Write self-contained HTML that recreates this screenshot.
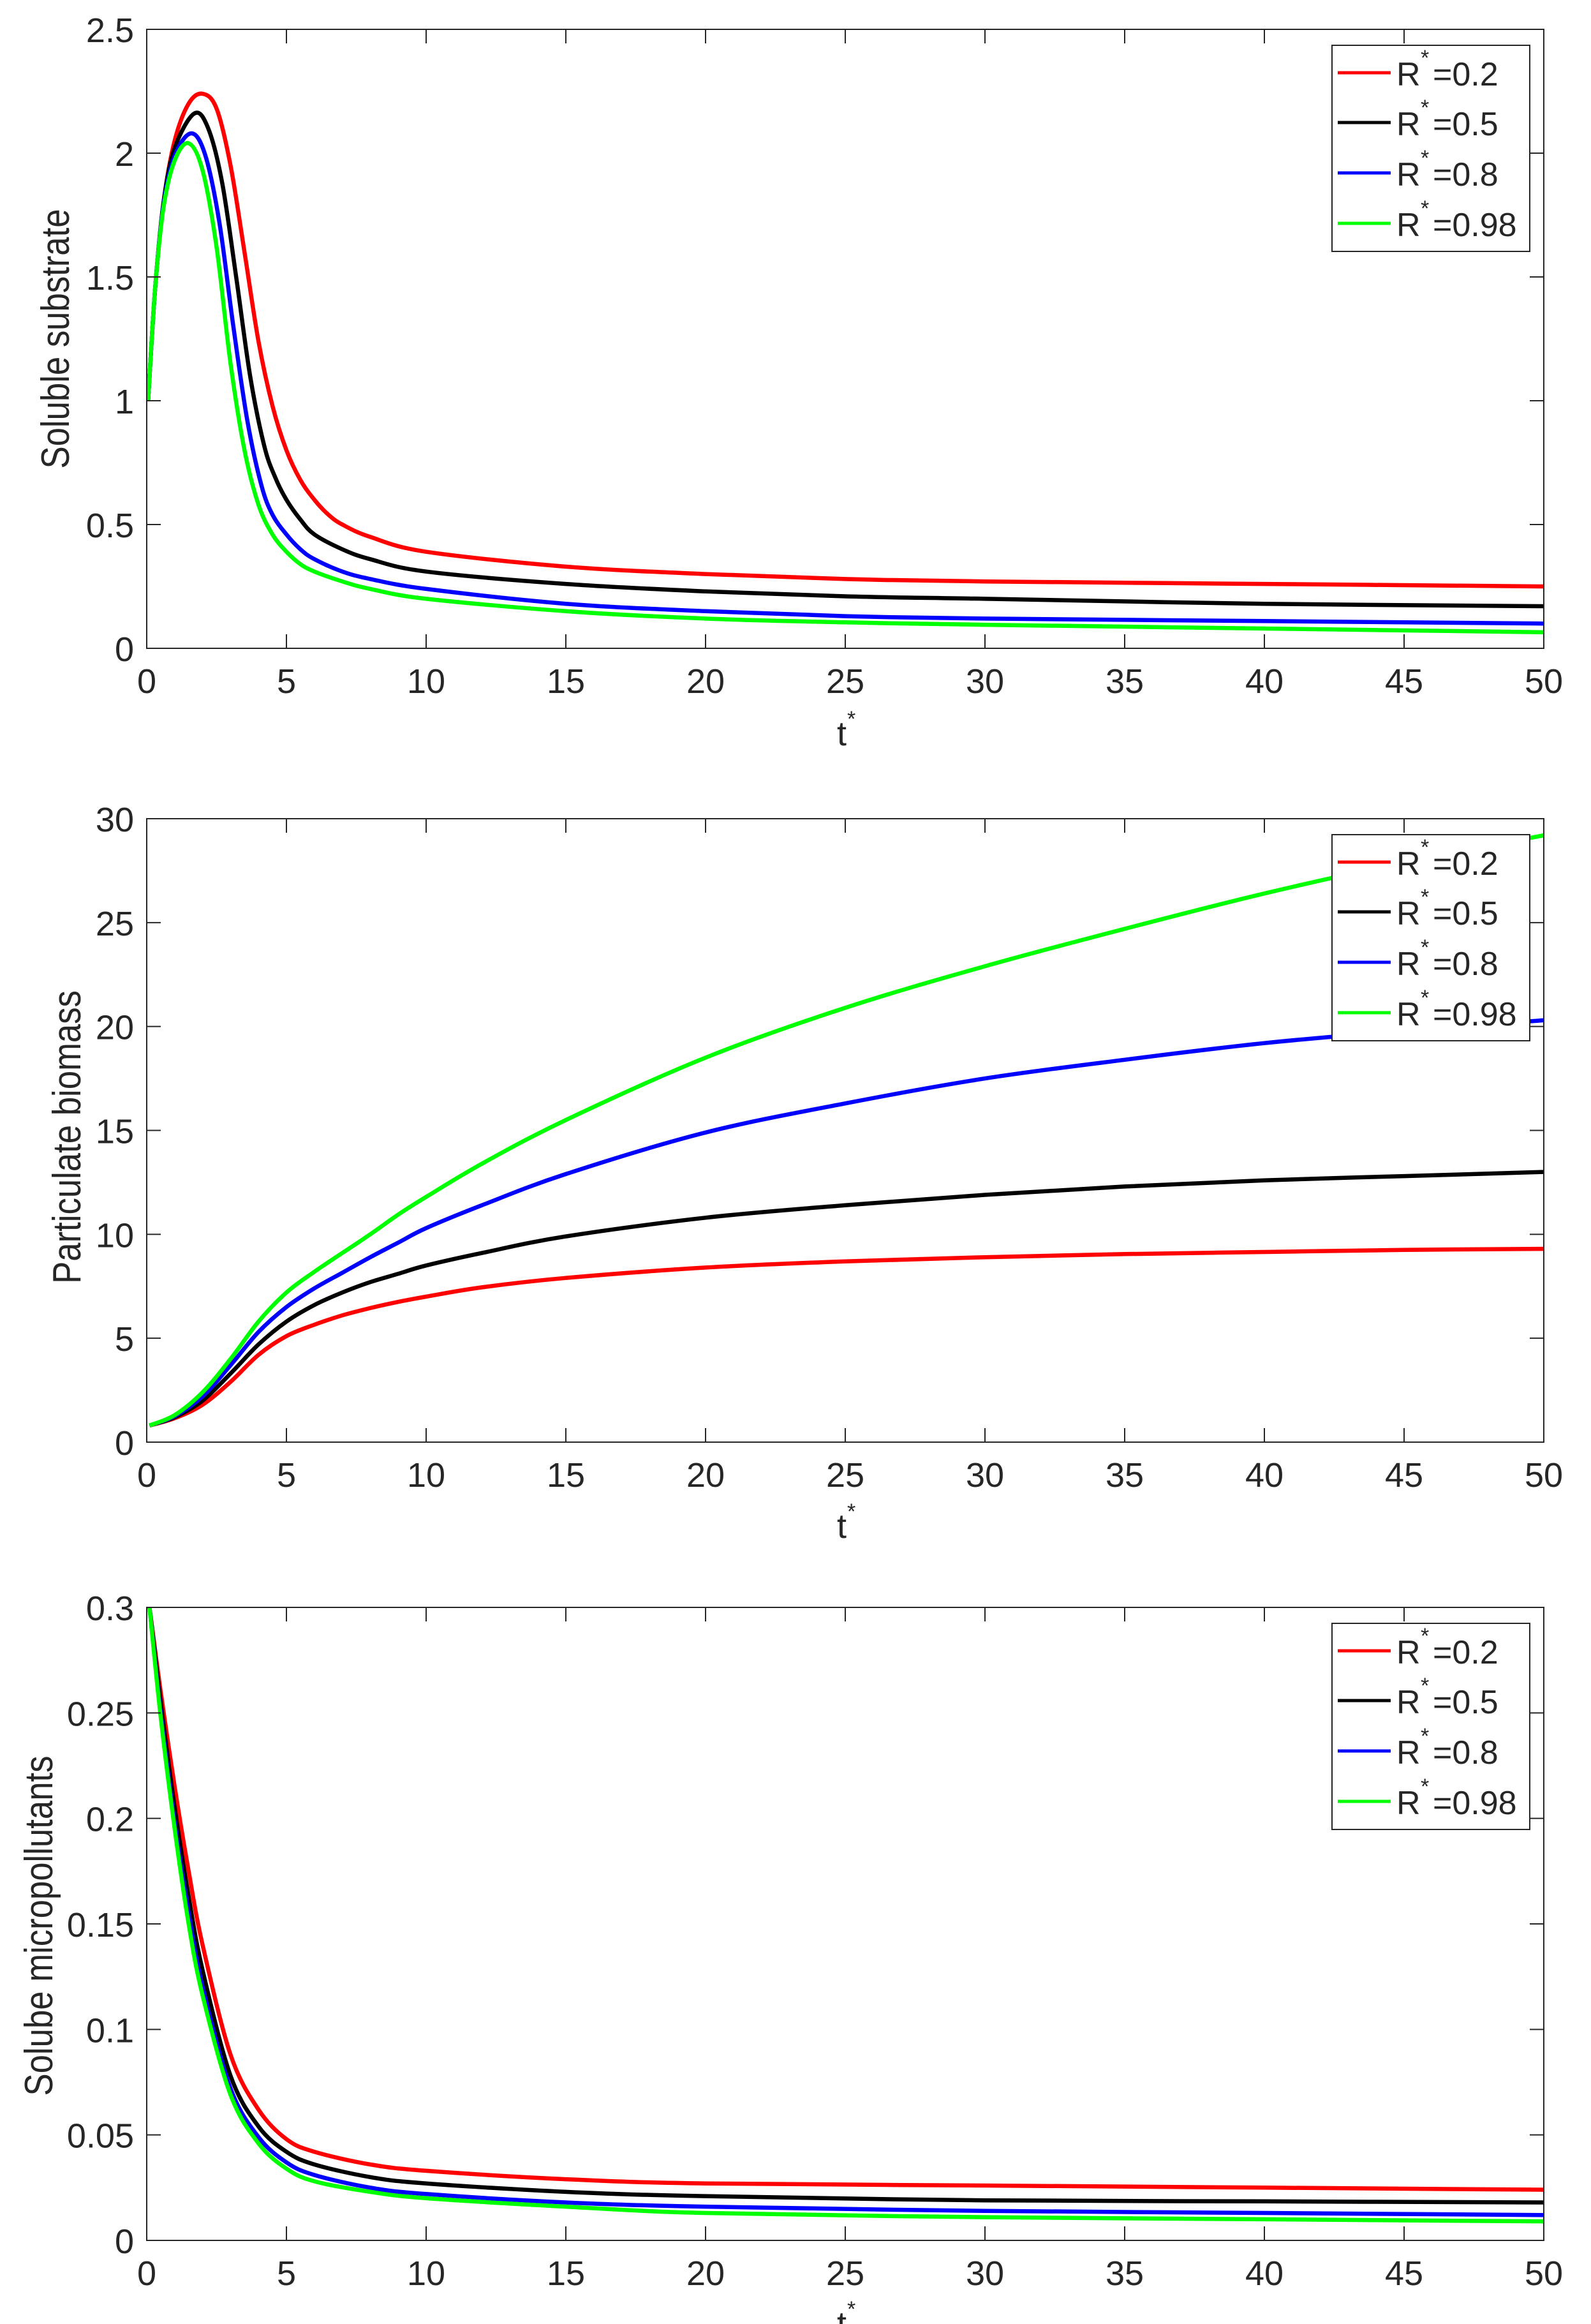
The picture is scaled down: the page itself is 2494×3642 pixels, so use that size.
<!DOCTYPE html>
<html><head><meta charset="utf-8"><style>
html,body{margin:0;padding:0;background:#fff;}
svg{display:block;}
text{font-family:"Liberation Sans",sans-serif;fill:#262626;}
</style></head><body>
<svg id="s" width="2494" height="3642" xmlns="http://www.w3.org/2000/svg">
<rect width="2494" height="3642" fill="#fff"/>
<g id="g"></g>
<text x="0" y="0" font-size="62" text-anchor="middle" transform="translate(108,531) rotate(-90) scale(0.85,1)">Soluble substrate</text>
<text x="0" y="0" font-size="62" text-anchor="middle" transform="translate(126,1782) rotate(-90) scale(0.85,1)">Particulate biomass</text>
<text x="0" y="0" font-size="62" text-anchor="middle" transform="translate(82,3018) rotate(-90) scale(0.85,1)">Solube micropollutants</text>
<text x="1312" y="1168" font-size="54">t</text><text x="1328" y="1138" font-size="34">*</text>
<text x="1312" y="2410" font-size="54">t</text><text x="1328" y="2380" font-size="34">*</text>
<text x="1312" y="3660" font-size="54">t</text><text x="1328" y="3630" font-size="34">*</text>
</svg>
<script>
var NS="http://www.w3.org/2000/svg",G=document.getElementById('g');
function el(n,a,t){var e=document.createElementNS(NS,n);for(var k in a)e.setAttribute(k,a[k]);if(t!==undefined)e.textContent=t;G.appendChild(e);return e;}
var L=230,R=2420;
var cols=['#ff0000','#000000','#0000ff','#00ff00'];
var labs=['0.2','0.5','0.8','0.98'];
function path(pts,X,Y){var p=pts.map(function(q){return [X(q[0]),Y(q[1])];});var d='M'+p[0][0].toFixed(1)+','+p[0][1].toFixed(1);
for(var i=0;i<p.length-1;i++){var p0=p[i-1]||p[i],p1=p[i],p2=p[i+1],p3=p[i+2]||p2;
var c1=[p1[0]+(p2[0]-p0[0])/6,p1[1]+(p2[1]-p0[1])/6],c2=[p2[0]-(p3[0]-p1[0])/6,p2[1]-(p3[1]-p1[1])/6];
d+='C'+c1[0].toFixed(1)+','+c1[1].toFixed(1)+' '+c2[0].toFixed(1)+','+c2[1].toFixed(1)+' '+p2[0].toFixed(1)+','+p2[1].toFixed(1);}return d;}
function plot(T,B,ymax,ystep,ylabels,data){
 var X=function(t){return L+(R-L)*t/50;},Y=function(v){return B-(B-T)*v/ymax;};
 el('clipPath',{id:'c'+T}).appendChild(document.createElementNS(NS,'rect'));
 var cp=G.lastChild.firstChild;cp.setAttribute('x',L);cp.setAttribute('y',T-3);cp.setAttribute('width',R-L);cp.setAttribute('height',B-T+3);
 for(var i=0;i<4;i++)el('path',{d:path(data[i],X,Y),fill:'none',stroke:cols[i],'stroke-width':6.5,'stroke-linejoin':'round','clip-path':'url(#c'+T+')'});
 el('rect',{x:L,y:T,width:R-L,height:B-T,fill:'none',stroke:'#262626','stroke-width':2});
 for(var t=0;t<=50;t+=5){var x=X(t);el('line',{x1:x,y1:B,x2:x,y2:B-22,stroke:'#262626','stroke-width':2});el('line',{x1:x,y1:T,x2:x,y2:T+22,stroke:'#262626','stroke-width':2});
  el('text',{x:x,y:B+70,'font-size':54,'text-anchor':'middle'},String(t));}
 for(var j=0;j<ylabels.length;j++){var y=Y(j*ystep);el('line',{x1:L,y1:y,x2:L+22,y2:y,stroke:'#262626','stroke-width':2});el('line',{x1:R,y1:y,x2:R-22,y2:y,stroke:'#262626','stroke-width':2});
  el('text',{x:210,y:y+20,'font-size':54,'text-anchor':'end'},ylabels[j]);}
 var o=T-46;
 el('rect',{x:2088,y:71+o,width:310,height:323,fill:'#fff',stroke:'#262626','stroke-width':2});
 var rows=[114,192,271,350];
 for(var i=0;i<4;i++){var ry=rows[i]+o;el('line',{x1:2097,y1:ry,x2:2180,y2:ry,stroke:cols[i],'stroke-width':5});
  el('text',{x:2189,y:ry+20,'font-size':52,fill:'#000'},'R');el('text',{x:2227,y:ry-12,'font-size':34,fill:'#000'},'*');el('text',{x:2246,y:ry+20,'font-size':52,fill:'#000'},'=0.'+labs[i].slice(2));}
}
plot(46,1016,2.5,0.5,['0','0.5','1','1.5','2','2.5'],[
[[0.05,1],[0.3,1.45],[0.6,1.8],[1,2.05],[1.5,2.2],[2,2.24],[2.5,2.18],[3,1.95],[3.5,1.6],[4,1.24],[4.5,0.98],[5,0.8],[5.5,0.68],[6,0.6],[6.5,0.54],[7,0.5],[8,0.45],[10,0.39],[15,0.33],[20,0.3],[25,0.28],[30,0.27],[40,0.26],[50,0.25]],
[[0.05,1],[0.3,1.45],[0.6,1.8],[1,2.02],[1.7,2.16],[2.2,2.1],[2.7,1.88],[3.2,1.5],[3.7,1.1],[4.2,0.82],[4.6,0.69],[5,0.6],[5.5,0.52],[6,0.46],[7,0.4],[8,0.36],[10,0.31],[15,0.26],[20,0.23],[25,0.21],[30,0.2],[40,0.18],[50,0.17]],
[[0.05,1],[0.3,1.45],[0.6,1.79],[1,1.99],[1.6,2.08],[2.1,1.99],[2.6,1.72],[3.1,1.3],[3.6,0.92],[4.1,0.66],[4.5,0.54],[5,0.46],[5.5,0.4],[6,0.36],[7,0.31],[8,0.28],[10,0.24],[15,0.18],[20,0.15],[25,0.13],[30,0.12],[40,0.11],[50,0.1]],
[[0.05,1],[0.3,1.45],[0.6,1.78],[1,1.97],[1.5,2.04],[2,1.93],[2.5,1.62],[3,1.15],[3.5,0.8],[4,0.58],[4.5,0.46],[5,0.39],[5.5,0.34],[6,0.31],[7,0.27],[8,0.24],[10,0.2],[15,0.15],[20,0.12],[25,0.105],[30,0.095],[40,0.08],[50,0.065]]]);
plot(1283,2260,30,5,['0','5','10','15','20','25','30'],[
[[0.1,.8],[1,1.15],[2,1.8],[3,2.9],[4,4.2],[5,5.1],[6,5.65],[7,6.1],[8,6.45],[9,6.75],[10,7.0],[12,7.45],[15,7.9],[20,8.4],[25,8.7],[30,8.9],[35,9.05],[40,9.15],[45,9.25],[50,9.3]],
[[0.1,.8],[1,1.2],[2,2.0],[3,3.3],[4,4.7],[5,5.8],[6,6.6],[7,7.2],[8,7.7],[9,8.1],[10,8.5],[12,9.1],[15,9.9],[20,10.8],[25,11.4],[30,11.9],[35,12.3],[40,12.6],[45,12.8],[50,13.0]],
[[0.1,.8],[1,1.25],[2,2.2],[3,3.7],[4,5.3],[5,6.5],[6,7.4],[7,8.15],[8,8.9],[9,9.6],[10,10.3],[12,11.4],[15,12.9],[20,14.9],[25,16.3],[30,17.5],[35,18.4],[40,19.2],[45,19.8],[50,20.3]],
[[0.1,.8],[1,1.3],[2,2.4],[3,4.0],[4,5.8],[5,7.2],[6,8.2],[7,9.1],[8,10.0],[9,10.95],[10,11.8],[12,13.4],[15,15.5],[20,18.5],[25,20.9],[30,22.9],[35,24.7],[40,26.4],[45,27.9],[50,29.2]]]);
plot(2519,3511,0.3,0.05,['0','0.05','0.1','0.15','0.2','0.25','0.3'],[
[[0.1,.3],[0.5,.26],[1,.215],[1.5,.175],[2,.14],[3,.088],[4,.062],[5,.048],[6,.042],[8,.036],[10,.033],[15,.029],[20,.027],[30,.026],[40,.025],[50,.024]],
[[0.1,.3],[.5,.255],[1,.205],[1.5,.163],[2,.128],[3,.078],[4,.054],[5,.042],[6,.036],[8,.030],[10,.027],[15,.023],[20,.021],[30,.019],[40,.0185],[50,.018]],
[[0.1,.3],[.5,.25],[1,.198],[1.5,.155],[2,.12],[3,.072],[4,.049],[5,.037],[6,.031],[8,.025],[10,.022],[15,.018],[20,.016],[30,.014],[40,.013],[50,.012]],
[[0.1,.3],[.5,.248],[1,.195],[1.5,.15],[2,.116],[3,.069],[4,.046],[5,.034],[6,.028],[8,.023],[10,.020],[15,.016],[20,.013],[30,.011],[40,.010],[50,.009]]]);
</script>
</body></html>
